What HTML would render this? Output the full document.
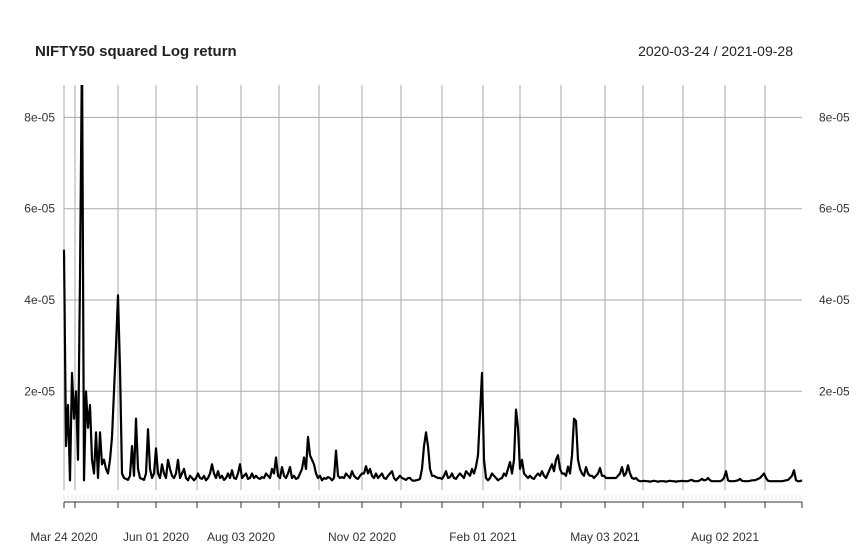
<!DOCTYPE html>
<html><head><meta charset="utf-8"><style>
body{margin:0;background:#fff;}
svg{display:block;font-family:"Liberation Sans",Arial,sans-serif;}
</style></head><body>
<svg id="chart" width="866" height="553" viewBox="0 0 866 553">
<text x="35" y="56" font-size="15" font-weight="bold" fill="#222">NIFTY50 squared Log return</text>
<text x="793" y="56" font-size="14" fill="#222" text-anchor="end">2020-03-24 / 2021-09-28</text>
<defs><clipPath id="pc"><rect x="60" y="85" width="746" height="410"/></clipPath></defs>
<g id="grid"></g>
<g id="ticks"></g>
<g id="series" clip-path="url(#pc)"></g>
</svg>
<script>
const values = [
51,8,17,0.5,24,14,20,5,45,95,
0.5,20,12,17,5,2,11,1,11,4,
5,3,2,5,10,20,30,41,25,2,
1,0.8,0.6,1.5,8,1.5,14,3,1,0.8,
0.6,2,11.7,3,1,2,7.5,2,1,4,
2,1,5,3,1.5,1,2,5,1,2,
3,1,0.5,1.5,1,0.5,1,2,1,0.8,
1.5,0.5,1,2,4,2,1,2.5,1,1.5,
0.6,1,2,1,2.7,1,0.8,2,4,1,
1.5,2,0.8,1,2,1,1.5,1,0.8,1.2,
1,2,1.5,1,3,2,5.5,1.5,1,3.4,
1.5,1,2,3.4,1,1.5,0.8,1,2,3,
5.5,3,10,6,5,4,2,1,1.5,0.5,
1,0.8,1.2,1,0.5,1,7,1.5,1,1.2,
1,2,1.5,1,2.5,1.5,1,0.8,1.5,2,
2,3.6,2,3,1.5,1,2,1,1.5,2,
1,0.8,1.5,2,2.5,1,0.5,1,1.5,1,
0.8,0.6,1,1,0.5,0.4,0.5,0.6,0.8,3,
8,11,8,3,1.5,1.5,1.2,1,1,0.8,
1.5,2.5,1,1.2,2,1,0.8,1.5,2,1.5,
1,2.5,2,1.5,3,2,3.5,6,15,24,
5,1,0.5,1,2,1.5,1,0.5,0.8,1,
2,1.5,3,4.5,2,5,16,12,3,5,
2,1.5,1,1.5,1,0.8,1.5,2,1.5,2.5,
1.5,1,2,3,4,2.5,5,6,3,2,
2,1.5,3.5,2,6,14,13.5,5,3,2,
1.5,3.4,2,1.5,1.5,1,1.5,2,3.2,1.5,
1.5,1,1,1,1,1,1,1.5,2,3.4,
1.5,2,3.8,2,1,0.8,1,0.5,0.3,0.3,
0.4,0.3,0.3,0.2,0.3,0.4,0.3,0.2,0.3,0.3,
0.3,0.2,0.3,0.4,0.3,0.3,0.2,0.3,0.3,0.4,
0.3,0.3,0.3,0.5,0.6,0.3,0.3,0.3,0.5,0.8,
0.5,0.6,1,0.5,0.3,0.3,0.3,0.3,0.3,0.5,
1,2.5,0.5,0.3,0.3,0.3,0.4,0.5,0.8,0.4,
0.3,0.3,0.3,0.4,0.5,0.5,0.6,0.8,1,1.5,
2,1,0.4,0.3,0.3,0.3,0.3,0.3,0.3,0.3,
0.4,0.5,0.6,1,1.5,2.7,0.5,0.3,0.3,0.5
]; // units of 1e-6
const gridIdx = [0,5.5,27,46,66.5,88.5,107.5,127.5,149,168.5,189,209.5,228,248.5,270.5,289.5,309.5,330.5,350.5];
const labelIdx = [0,46,88.5,149,209.5,270.5,330.5];
const labelText = ["Mar 24 2020","Jun 01 2020","Aug 03 2020","Nov 02 2020","Feb 01 2021","May 03 2021","Aug 02 2021"];
const yTicks = [20,40,60,80];
const yTickText = ["2e-05","4e-05","6e-05","8e-05"];

const NS="http://www.w3.org/2000/svg";
const x0=64, x1=802, y0=482.6, pxPer=4.565;
const xs = i => x0 + i*(x1-x0)/(values.length-1);
const ys = v => y0 - v*pxPer;
function mk(tag, attrs, parent){const e=document.createElementNS(NS,tag);for(const k in attrs)e.setAttribute(k,attrs[k]);parent.appendChild(e);return e;}
const grid=document.getElementById('grid'), ticks=document.getElementById('ticks'), series=document.getElementById('series');

gridIdx.forEach(i=>{
  const l=mk('line',{x1:xs(i),x2:xs(i),y1:85,y2:490,stroke:'#aaa','stroke-width':1},grid);
  
  
});
yTicks.forEach((v,k)=>{
  const l=mk('line',{x1:x0,x2:x1,y1:ys(v),y2:ys(v),stroke:'#aaa','stroke-width':1},grid);
  
  
  const t=mk('text',{x:55,y:ys(v)+4,'font-size':12,'text-anchor':'end',fill:'#333'},grid);
  t.textContent=yTickText[k];
  
  
  const t2=mk('text',{x:819,y:ys(v)+4,'font-size':12,fill:'#333'},grid);
  t2.textContent=yTickText[k];
  
  
});
values.forEach((v,i)=>{
  if(i%2) return;
  const m=mk('line',{x1:xs(i),x2:xs(i),y1:495,y2:500,stroke:'#eeeeee','stroke-width':1.5},ticks);
  
  
});
const ax=mk('line',{x1:x0,x2:x1,y1:502,y2:502,stroke:'#333','stroke-width':1},ticks);


gridIdx.concat([values.length-1]).forEach(i=>{
  const t=mk('line',{x1:xs(i),x2:xs(i),y1:502,y2:508,stroke:'#333','stroke-width':1},ticks);
  
  
});
labelIdx.forEach((i,k)=>{
  const t=mk('text',{x:xs(i),y:541,'font-size':12,'text-anchor':'middle',fill:'#333'},ticks);
  t.textContent=labelText[k];
  
  
});
const d=values.map((v,i)=>(i?'L':'M')+xs(i).toFixed(1)+','+ys(v).toFixed(1)).join('');
const p=mk('path',{d:d,fill:'none',stroke:'#000','stroke-width':2.2,'stroke-linejoin':'round'},series);


</script>
</body></html>
